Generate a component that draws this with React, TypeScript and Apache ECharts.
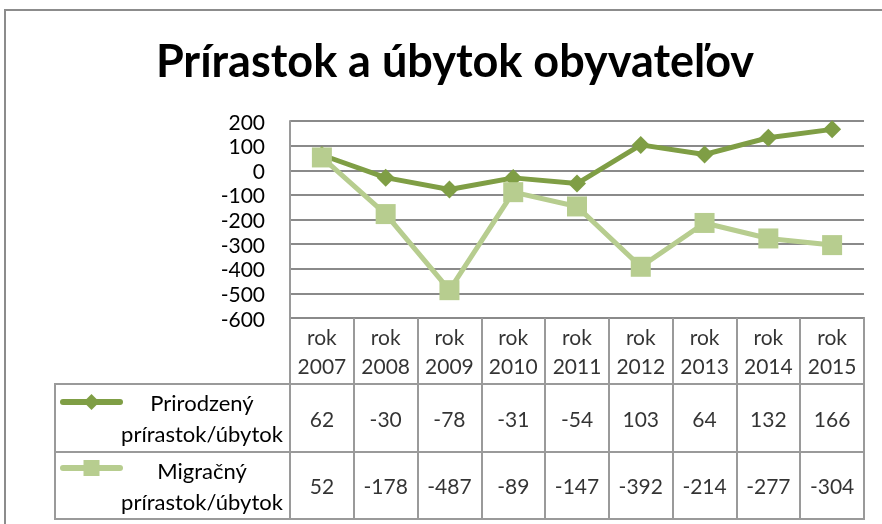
import React, { useEffect, useRef } from "react";
import * as echarts from "echarts";

const years = ["2007", "2008", "2009", "2010", "2011", "2012", "2013", "2014", "2015"];
const natural = [62, -30, -78, -31, -54, 103, 64, 132, 166];
const migration = [52, -178, -487, -89, -147, -392, -214, -277, -304];
const seriesNames = ["Prirodzený prírastok/úbytok", "Migračný prírastok/úbytok"];
const seriesLabels = ["Prirodzený\nprírastok/úbytok", "Migračný\nprírastok/úbytok"];
const title = "Prírastok a úbytok obyvateľov";
const yMin = -600;
const yMax = 200;
const yStep = 100;

const DARK = "#7f9e45";
const LIGHT = "#b7cd8f";
const GRID = "#8a8a8a";
const BORDER = "#9a9a9a";
const FONT = "Lato";

const PLOT_LEFT = 290;
const PLOT_WIDTH = 574;

export default function App() {
  const ref = useRef<HTMLDivElement>(null);
  useEffect(() => {
    if (!ref.current) return;
    const chart = echarts.init(ref.current, undefined, { renderer: "svg" });
    const rows = [natural, migration];
    const tableGrids = [
      { left: PLOT_LEFT, top: 318, width: PLOT_WIDTH, height: 66 },
      { left: PLOT_LEFT, top: 384, width: PLOT_WIDTH, height: 68 },
      { left: PLOT_LEFT, top: 452, width: PLOT_WIDTH, height: 67 },
    ];
    const cellLabel = {
      show: true,
      position: "inside" as const,
      color: "#000",
      fontFamily: FONT,
      fontSize: 21,
      lineHeight: 29,
    };
    const option: any = {
      animation: false,
      textStyle: { fontFamily: FONT },
      title: {
        text: title,
        left: 450,
        textAlign: "center",
        top: 32,
        textStyle: { fontFamily: FONT, fontWeight: "bold", fontSize: 45, color: "#000" },
      },
      legend: {
        orient: "vertical",
        left: 55,
        top: 387,
        itemWidth: 57,
        itemHeight: 20,
        itemGap: 48,
        formatter: () => "",
        selectedMode: false,
        lineStyle: { width: 6, cap: "round" },
        data: seriesNames,
      },
      grid: [
        { left: PLOT_LEFT, top: 121, width: PLOT_WIDTH, height: 197 },
        ...tableGrids.map((g) => ({ ...g, show: true, borderColor: BORDER, borderWidth: 2, backgroundColor: "transparent" })),
      ],
      xAxis: [
        {
          gridIndex: 0,
          type: "category",
          data: years,
          boundaryGap: true,
          axisLine: { show: false },
          axisTick: { show: false },
          axisLabel: { show: false },
        },
        ...tableGrids.map((_, i) => ({
          gridIndex: i + 1,
          type: "category",
          data: years,
          boundaryGap: true,
          axisLine: { show: false },
          axisTick: { show: false },
          axisLabel: { show: false },
          splitLine: { show: true, interval: 0, lineStyle: { color: BORDER, width: 2 } },
        })),
      ],
      yAxis: [
        {
          gridIndex: 0,
          type: "value",
          min: yMin,
          max: yMax,
          interval: yStep,
          axisLine: { show: true, lineStyle: { color: BORDER, width: 2 } },
          axisTick: { show: false },
          axisLabel: { color: "#000", fontFamily: FONT, fontSize: 21, margin: 25 },
          splitLine: { show: true, lineStyle: { color: GRID, width: 2 } },
        },
        ...tableGrids.map((_, i) => ({ gridIndex: i + 1, type: "value", min: 0, max: 1, show: false })),
      ],
      series: [
        {
          name: seriesNames[0],
          type: "line",
          data: natural,
          xAxisIndex: 0,
          yAxisIndex: 0,
          symbol: "diamond",
          symbolSize: 18,
          lineStyle: { color: DARK, width: 5 },
          itemStyle: { color: DARK },
          silent: true,
        },
        {
          name: seriesNames[1],
          type: "line",
          data: migration,
          xAxisIndex: 0,
          yAxisIndex: 0,
          symbol: "rect",
          symbolSize: 20,
          lineStyle: { color: LIGHT, width: 5 },
          itemStyle: { color: LIGHT },
          silent: true,
        },
        {
          type: "scatter",
          xAxisIndex: 1,
          yAxisIndex: 1,
          symbolSize: 1,
          itemStyle: { color: "transparent" },
          data: years.map((y, i) => ({ value: [i, 0.5], name: "rok\n" + y })),
          label: { ...cellLabel, formatter: (p: any) => p.name },
          silent: true,
        },
        ...rows.map((row, r) => ({
          type: "scatter",
          xAxisIndex: r + 2,
          yAxisIndex: r + 2,
          symbolSize: 1,
          itemStyle: { color: "transparent" },
          data: row.map((v, i) => ({ value: [i, 0.5], name: String(v) })),
          label: { ...cellLabel, formatter: (p: any) => p.name },
          silent: true,
        })),
      ],
      graphic: [
        {
          type: "rect",
          shape: { x: 5, y: 10, width: 1000, height: 700 },
          style: { fill: "none", stroke: "#8c8c8c", lineWidth: 2 },
          silent: true,
          z: -10,
        },
        ...seriesLabels.map((t, r) => ({
          type: "rect",
          shape: { x: 55, y: tableGrids[r + 1].top, width: PLOT_LEFT - 55, height: tableGrids[r + 1].height },
          style: { fill: "none", stroke: BORDER, lineWidth: 2 },
          silent: true,
        })),
        ...seriesLabels.map((t, r) => ({
          type: "text",
          x: 202,
          y: tableGrids[r + 1].top + tableGrids[r + 1].height / 2,
          style: {
            text: t,
            fill: "#000",
            font: `22px ${FONT}`,
            lineHeight: 31,
            textAlign: "center",
            textVerticalAlign: "middle",
          },
          silent: true,
        })),
      ],
    };
    chart.setOption(option);
    return () => chart.dispose();
  }, []);
  return <div ref={ref} style={{ position: "fixed", left: 0, top: 0, width: 882, height: 524 }} />;
}
